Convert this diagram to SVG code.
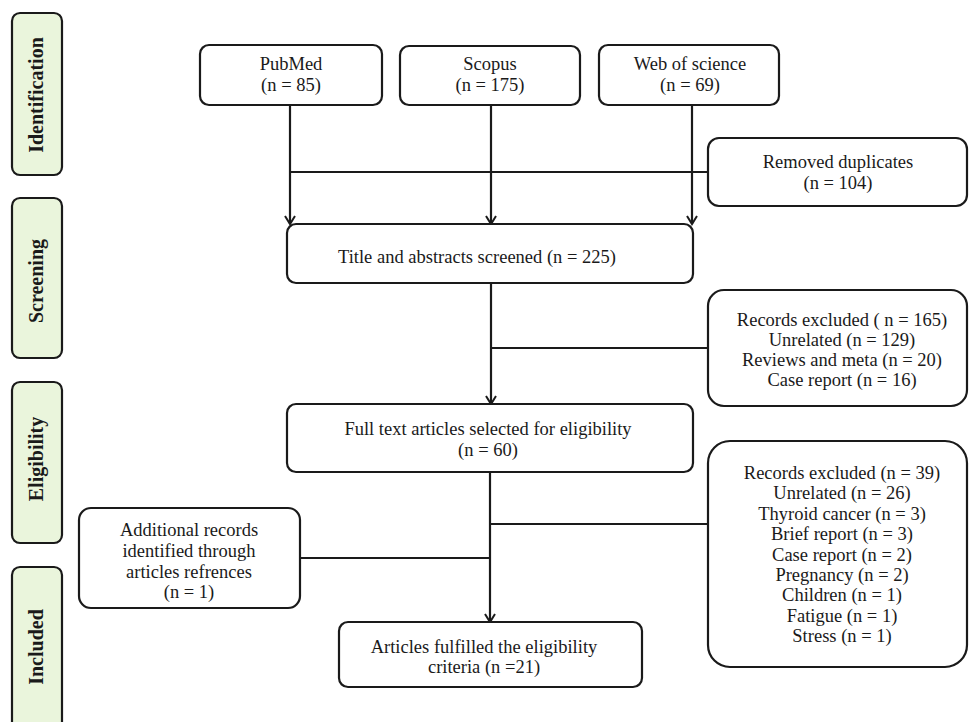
<svg xmlns="http://www.w3.org/2000/svg" width="970" height="722" viewBox="0 0 970 722">
<defs>
<marker id="arr" markerWidth="12" markerHeight="12" refX="10" refY="6" orient="auto" markerUnits="userSpaceOnUse" viewBox="0 0 12 12">
<path d="M2,1 L10,6 L2,11" fill="none" stroke="#1a1a1a" stroke-width="2"/>
</marker>
</defs>
<style>
.box{fill:#fff;stroke:#1a1a1a;stroke-width:2.2}
.stage{fill:#eaf5dc;stroke:#1a1a1a;stroke-width:2.2}
.t{font-family:"Liberation Serif","Times New Roman",serif;font-size:18.5px;fill:#1a1a1a;text-anchor:middle}
.s{font-family:"Liberation Serif","Times New Roman",serif;font-size:20px;font-weight:bold;fill:#1a1a1a;text-anchor:middle}
.c{fill:none;stroke:#1a1a1a;stroke-width:2.2}
</style>
<rect width="970" height="722" fill="#fff"/>

<g id="stage-identification"><rect class="stage" x="12" y="13" width="50" height="162" rx="8"/><text class="s" transform="translate(43,95) rotate(-90)">Identification</text></g>
<g id="stage-screening"><rect class="stage" x="12" y="198" width="50" height="160" rx="8"/><text class="s" transform="translate(43,281) rotate(-90)">Screening</text></g>
<g id="stage-eligibility"><rect class="stage" x="12" y="382" width="50" height="161" rx="8"/><text class="s" transform="translate(43,459) rotate(-90)">Eligibility</text></g>
<g id="stage-included"><rect class="stage" x="12" y="567" width="50" height="165" rx="8"/><text class="s" transform="translate(43,647) rotate(-90)">Included</text></g>

<g id="connectors">
<line class="c" x1="290" y1="105" x2="290" y2="224" marker-end="url(#arr)"/>
<line class="c" x1="491" y1="105" x2="491" y2="224" marker-end="url(#arr)"/>
<line class="c" x1="692" y1="105" x2="692" y2="224" marker-end="url(#arr)"/>
<line class="c" x1="290" y1="172" x2="708" y2="172"/>
<line class="c" x1="491" y1="283" x2="491" y2="404" marker-end="url(#arr)"/>
<line class="c" x1="491" y1="348" x2="708" y2="348"/>
<line class="c" x1="490" y1="472" x2="490" y2="622" marker-end="url(#arr)"/>
<line class="c" x1="490" y1="524" x2="708" y2="524"/>
<line class="c" x1="300" y1="558" x2="490" y2="558"/>
</g>

<g id="pubmed"><rect class="box" x="200" y="45" width="182" height="60" rx="9"/><text class="t" x="291" y="70">PubMed</text><text class="t" x="291" y="91">(n = 85)</text></g>
<g id="scopus"><rect class="box" x="400" y="46" width="180" height="59" rx="9"/><text class="t" x="490" y="70">Scopus</text><text class="t" x="490" y="91">(n = 175)</text></g>
<g id="wos"><rect class="box" x="599" y="45" width="180" height="60" rx="9"/><text class="t" x="690" y="70">Web of science</text><text class="t" x="690" y="91">(n = 69)</text></g>
<g id="duplicates"><rect class="box" x="708" y="138" width="259" height="68" rx="11"/><text class="t" x="838" y="168">Removed duplicates</text><text class="t" x="838" y="189">(n = 104)</text></g>
<g id="title-screened"><rect class="box" x="287" y="224" width="406" height="59" rx="9"/><text class="t" x="477" y="263">Title and abstracts screened (n = 225)</text></g>
<g id="excluded1"><rect class="box" x="708" y="290" width="259" height="116" rx="16"/>
<text class="t" x="842" y="326">Records excluded ( n = 165)</text>
<text class="t" x="842" y="346">Unrelated (n = 129)</text>
<text class="t" x="842" y="366">Reviews and meta (n = 20)</text>
<text class="t" x="842" y="386">Case report (n = 16)</text></g>
<g id="fulltext"><rect class="box" x="287" y="404" width="406" height="68" rx="9"/><text class="t" x="488" y="435">Full text articles selected for eligibility</text><text class="t" x="488" y="456">(n = 60)</text></g>
<g id="excluded2"><rect class="box" x="708" y="441" width="259" height="226" rx="22"/>
<text class="t" x="842" y="479">Records excluded (n = 39)</text>
<text class="t" x="842" y="499">Unrelated (n = 26)</text>
<text class="t" x="842" y="520">Thyroid cancer (n = 3)</text>
<text class="t" x="842" y="540">Brief report (n = 3)</text>
<text class="t" x="842" y="561">Case report (n = 2)</text>
<text class="t" x="842" y="581">Pregnancy (n = 2)</text>
<text class="t" x="842" y="601">Children (n = 1)</text>
<text class="t" x="842" y="622">Fatigue (n = 1)</text>
<text class="t" x="842" y="642">Stress (n = 1)</text></g>
<g id="additional"><rect class="box" x="79" y="508" width="221" height="100" rx="12"/>
<text class="t" x="189" y="536">Additional records</text>
<text class="t" x="189" y="557">identified through</text>
<text class="t" x="189" y="578">articles refrences</text>
<text class="t" x="189" y="598">(n = 1)</text></g>
<g id="included"><rect class="box" x="339" y="622" width="303" height="65" rx="9"/><text class="t" x="484" y="653">Articles fulfilled the eligibility</text><text class="t" x="484" y="673">criteria (n =21)</text></g>
</svg>
